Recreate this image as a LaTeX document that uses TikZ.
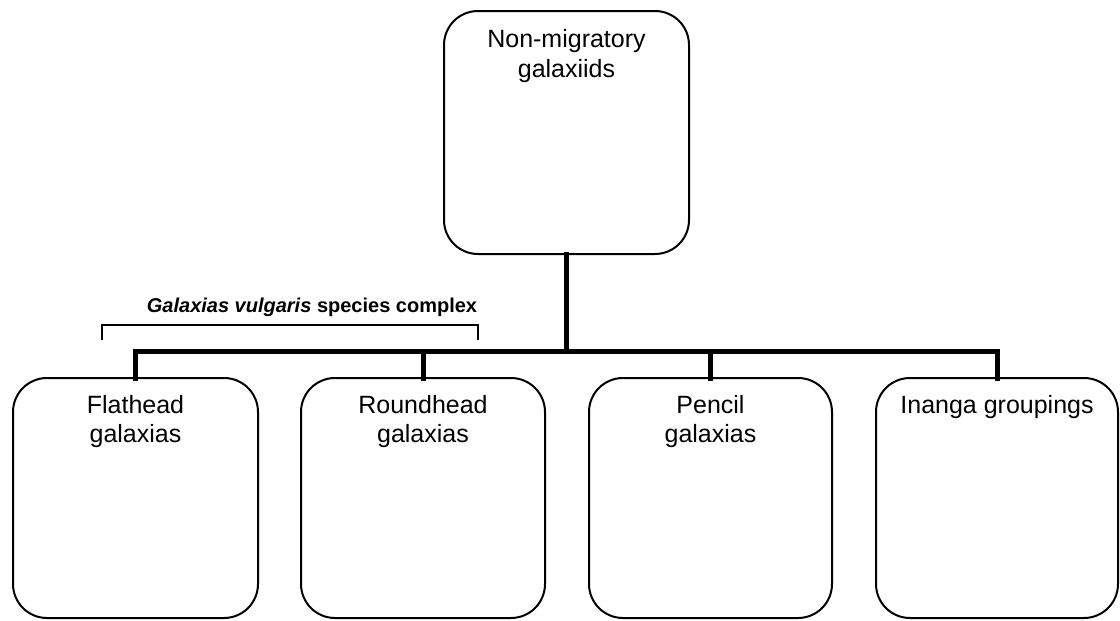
\documentclass[tikz,border=0pt]{standalone}
\usepackage{fontspec}
\setmainfont{Liberation Sans}
\begin{document}
\begin{tikzpicture}[x=1pt,y=-1pt,
  box/.style={draw=black, line width=2pt, rounded corners=34pt, inner sep=0pt, outer sep=0pt},
  boxtext/.style={anchor=base, inner sep=0pt, align=center, font=\fontsize{25}{29.5}\selectfont},
  bar/.style={draw=black, line width=5pt, line join=miter, line cap=rect},
  brace/.style={draw=black, line width=1.3pt, line join=miter},
  lab/.style={anchor=base, inner sep=0pt, font=\fontsize{20}{24}\selectfont\bfseries}]
\useasboundingbox (0,0) rectangle (1120,621);
\node[box, minimum width=245pt, minimum height=243pt] (top) at (566.5,132.5) {};
\node[boxtext] (toptext) at (566.5,77) {Non-migratory\\galaxiids};
\node[box, minimum width=245pt, minimum height=240pt] (f) at (135.5,498) {};
\node[box, minimum width=244pt, minimum height=240pt] (r) at (423,498) {};
\node[box, minimum width=243pt, minimum height=240pt] (p) at (710.5,498) {};
\node[box, minimum width=242pt, minimum height=240pt] (i) at (997,498) {};
\node[boxtext] (ft) at (135.5,442.5) {Flathead\\galaxias};
\node[boxtext] (rt) at (423,442.5) {Roundhead\\galaxias};
\node[boxtext] (pt) at (710.5,442.5) {Pencil\\galaxias};
\node[boxtext] (it) at (997,413) {Inanga groupings};
\coordinate (j) at (566.5,351.5);
\draw[bar] (top.south) -- (j);
\draw[bar] (f.north) -- (f.north |- j) -- (i.north |- j) -- (i.north);
\draw[bar] (r.north) -- (r.north |- j);
\draw[bar] (p.north) -- (p.north |- j);
\coordinate (bl) at (102,340);
\coordinate (br) at (478,340);
\draw[brace] (bl) -- (102,325) -- (478,325) -- (br);
\node[lab] (glab) at (312,312) {\textit{Galaxias vulgaris} species complex};
\end{tikzpicture}
\end{document}
